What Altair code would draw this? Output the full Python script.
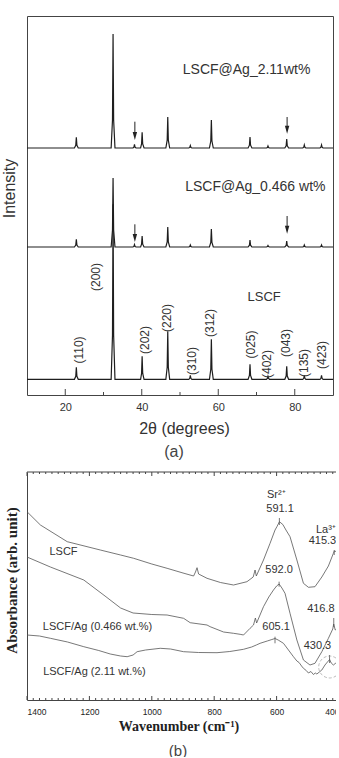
import altair as alt
import pandas as pd

FONT = "Liberation Sans"
SERIF = "Liberation Serif"
INK = "#333333"
FRAME = "#444444"

# ---------------- (a) XRD patterns ----------------
# shared 2-theta grid: each reflection is described by foot, shoulder, apex, shoulder, foot
TWO_THETA = [10.0,
             22.4, 22.75, 22.9, 23.05, 23.4,
             32.0, 32.35, 32.5, 32.65, 33.0,
             37.7, 37.95, 38.1, 38.25, 38.5,
             39.7, 39.95, 40.1, 40.25, 40.6,
             46.3, 46.65, 46.8, 46.95, 47.3,
             52.3, 52.55, 52.7, 52.85, 53.1,
             57.7, 58.05, 58.2, 58.35, 58.7,
             67.8, 68.15, 68.3, 68.45, 68.8,
             72.6, 72.85, 73.0, 73.15, 73.4,
             77.4, 77.75, 77.9, 78.05, 78.4,
             82.1, 82.35, 82.5, 82.65, 82.9,
             86.6, 86.85, 87.0, 87.15, 87.4,
             90.0]

I_AG211 = [0,
           0, 2.7, 10.7, 2.7, 0,
           0, 28, 114, 28, 0,
           0, 0.9, 3.5, 0.9, 0,
           0, 4, 15.7, 4, 0,
           0, 7.8, 31, 7.8, 0,
           0, 0.6, 2.5, 0.6, 0,
           0, 7, 28, 7, 0,
           0, 2.8, 11, 2.8, 0,
           0, 0.5, 2, 0.5, 0,
           0, 2.3, 9, 2.3, 0,
           0, 0.8, 3, 0.8, 0,
           0, 0.8, 3, 0.8, 0,
           0]

I_AG0466 = [0,
            0, 1.9, 7.7, 1.9, 0,
            0, 17, 69, 17, 0,
            0, 0.6, 2.5, 0.6, 0,
            0, 2.8, 11, 2.8, 0,
            0, 5, 20, 5, 0,
            0, 0.5, 2, 0.5, 0,
            0, 4.5, 18, 4.5, 0,
            0, 1.8, 7, 1.8, 0,
            0, 0.4, 1.5, 0.4, 0,
            0, 1.5, 6, 1.5, 0,
            0, 0.5, 2, 0.5, 0,
            0, 0.5, 2, 0.5, 0,
            0]

I_LSCF = [0,
          0, 3, 12, 3, 0,
          0, 44, 175, 44, 0,
          0, 0, 0, 0, 0,
          0, 5.8, 23, 5.8, 0,
          0, 12, 48, 12, 0,
          0, 1, 4, 1, 0,
          0, 10, 40, 10, 0,
          0, 3.8, 15, 3.8, 0,
          0, 0.8, 3, 0.8, 0,
          0, 3.3, 13, 3.3, 0,
          0, 1, 4, 1, 0,
          0, 1, 4, 1, 0,
          0]

XRD_SERIES = ["LSCF@Ag_2.11wt%", "LSCF@Ag_0.466 wt%", "LSCF"]
XRD_OFFSET = [247, 148, 15.7]  # vertical stacking of the three patterns

HKL = ["(110)", "(200)", "(202)", "(220)", "(310)", "(312)",
       "(025)", "(402)", "(043)", "(135)", "(423)"]
HKL_2THETA = [23.5, 28.1, 40.75, 46.7, 53.15, 57.9, 68.65, 72.85, 77.75, 82.35, 87.15]
HKL_Y = [45, 118, 55, 77, 34, 72, 50.5, 31, 52, 32, 40]

AG_ARROW_2THETA = [38.2, 78.0, 38.2, 78.0]
AG_ARROW_TOP = [273.3, 278.0, 170.7, 179.0]
AG_ARROW_TIP = [255.0, 261.3, 153.0, 161.3]

XRD_NAME_2THETA = [67.4, 69.7]
XRD_NAME_Y = [325.0, 208.3]
LSCF_NAME_2THETA = [72.0]
LSCF_NAME_Y = [98.3]

XRD_MAJOR = [20, 40, 60, 80]
XRD_MINOR = [30, 50, 70]

# ---------------- (b) FTIR spectra ----------------
WN_LSCF = [1400, 1357, 1271, 1165, 1100, 1058, 1000, 951, 900, 866, 860, 855, 850,
           823, 780, 738, 695, 675, 669, 665, 642, 621, 605, 599, 591, 580, 570,
           557, 535, 514, 498, 477, 455, 434, 418, 415, 407, 400]
AB_LSCF = [188.3, 175, 158.3, 150, 145, 141.7, 136, 131.7, 127, 124, 128, 132.3, 126,
           121.7, 117.5, 115, 118.3, 123, 130, 124, 140, 156.7, 170, 173.3, 178.3, 175.5, 170,
           163.3, 140, 116.7, 112.7, 113.3, 123, 134, 146.7, 149, 148.3, 147]

WN_AG0466 = [1400, 1325, 1218, 1150, 1100, 1060, 1000, 951, 898, 877, 823, 813, 770,
             738, 717, 706, 685, 674, 668, 664, 642, 625, 610, 600, 592, 583, 573,
             557, 535, 514, 493, 477, 455, 434, 420, 417, 412, 400]
AB_AG0466 = [143, 133, 120, 104, 92, 87, 85.5, 85, 81.7, 77.3, 75, 73.3, 68,
             66.7, 65.7, 65, 71.7, 75, 82, 77, 93.3, 103, 110, 114, 116, 112, 106.7,
             86.7, 60, 40, 35, 36.7, 48.3, 61.7, 71, 76, 70, 73]

WN_AG211 = [1400, 1360, 1325, 1270, 1218, 1170, 1133, 1100, 1079, 1060, 1047, 1020,
            973, 940, 898, 850, 791, 750, 706, 680, 665, 653, 630, 615, 605, 595, 578,
            562, 546, 535, 528, 520, 514, 505, 498, 490, 482, 476, 471, 463, 455, 445,
            437, 430, 425, 418, 410, 400]
AB_AG211 = [65, 64, 61.7, 58, 53.3, 49.5, 46, 44, 43.3, 45, 48.3, 50,
            51.7, 51, 48.3, 47.5, 47.3, 48.5, 50.7, 53, 55, 56.7, 59, 60.5, 61.5, 60, 56.7,
            50, 43.3, 39, 37.5, 34, 31.7, 29.5, 27, 28.5, 25.5, 27, 26, 28, 30, 35,
            38, 40.5, 37, 35, 37, 40]

PEAK_WN = [591.1, 415.3, 592.0, 416.8, 605.1, 430.3]
PEAK_LO = [175.0, 145.0, 113.3, 73.0, 56.7, 37.0]
PEAK_HI = [182.0, 150.0, 118.3, 82.0, 63.3, 45.0]

FTIR_LABELS = ["Sr²⁺", "591.1", "La³⁺", "415.3", "592.0", "416.8", "605.1", "430.3",
               "LSCF", "LSCF/Ag (0.466 wt.%)", "LSCF/Ag (2.11 wt.%)"]
FTIR_LABEL_WN = [601, 589, 442, 453, 592, 458, 601.6, 469, 1283, 1174, 1184]
FTIR_LABEL_AB = [205, 191, 170, 159, 130, 91, 73.3, 54.2, 148, 73.3, 28.3]

HIGHLIGHT_WN = [430]
HIGHLIGHT_AB = [33]

FTIR_MAJOR = [1400, 1200, 1000, 800, 600, 400]
FTIR_MINOR = [w for w in range(400, 1401, 20) if w % 200 != 0]

# ================= panel (a) =================
WA, HA = 306, 379

rows = []
for name, off, vals in zip(XRD_SERIES, XRD_OFFSET, [I_AG211, I_AG0466, I_LSCF]):
    for t, v in zip(TWO_THETA, vals):
        rows.append({"tt": t, "inten": v + off, "series": name})
xrd = pd.DataFrame(rows)

xa_axis = alt.Axis(values=XRD_MAJOR, ticks=False, tickSize=0, domain=False,
                   labelFontSize=11, labelFont=FONT, labelColor=INK, labelPadding=6,
                   title="2θ (degrees)", titleFontSize=16, titleFont=FONT,
                   titleFontWeight="normal", titleColor=INK, titlePadding=8, titleX=157)
ya_axis = alt.Axis(labels=False, ticks=False, domain=False, title="Intensity",
                   titleFontSize=16, titleFont=FONT, titleFontWeight="normal",
                   titleColor=INK, titlePadding=10, titleY=172)
xa_scale = alt.Scale(domain=[10, 90], nice=False, zero=False)
ya_scale = alt.Scale(domain=[0, HA], nice=False, zero=False)


def xA(field):
    return alt.X(field, type="quantitative", scale=xa_scale, axis=xa_axis)


def yA(field):
    return alt.Y(field, type="quantitative", scale=ya_scale, axis=ya_axis)


patterns = alt.Chart(xrd).mark_line(color="#1e1e1e", strokeWidth=1.2).encode(
    x=xA("tt"), y=yA("inten"), detail="series:N")

hkl_df = pd.DataFrame({"tt": HKL_2THETA, "inten": HKL_Y, "label": HKL})
hkl_text = alt.Chart(hkl_df).mark_text(angle=270, font=FONT, fontSize=12, color=INK).encode(
    x=xA("tt"), y=yA("inten"), text="label:N")

name_df = pd.DataFrame({"tt": XRD_NAME_2THETA, "inten": XRD_NAME_Y, "label": XRD_SERIES[:2]})
name_text = alt.Chart(name_df).mark_text(font=FONT, fontSize=14, color=INK).encode(
    x=xA("tt"), y=yA("inten"), text="label:N")
lscf_df = pd.DataFrame({"tt": LSCF_NAME_2THETA, "inten": LSCF_NAME_Y, "label": [XRD_SERIES[2]]})
lscf_text = alt.Chart(lscf_df).mark_text(font=FONT, fontSize=13, color=INK).encode(
    x=xA("tt"), y=yA("inten"), text="label:N")

arrow_df = pd.DataFrame({"tt": AG_ARROW_2THETA, "inten": AG_ARROW_TOP,
                         "shaft_end": [t + 6 for t in AG_ARROW_TIP]})
shafts = alt.Chart(arrow_df).mark_rule(color="#222222", strokeWidth=1).encode(
    x=xA("tt"), y=yA("inten"), y2="shaft_end:Q")
head_df = pd.DataFrame({"tt": AG_ARROW_2THETA, "inten": [t + 4 for t in AG_ARROW_TIP]})
heads = alt.Chart(head_df).mark_point(shape="M-0.55,-1L0.55,-1L0,1Z", size=64, filled=True,
                                      color="#222222", opacity=1).encode(x=xA("tt"), y=yA("inten"))

major_a = alt.Chart(pd.DataFrame({"tt": XRD_MAJOR})).mark_rule(color=FRAME).encode(
    x=xA("tt"), y=alt.value(HA), y2=alt.value(HA - 6))
minor_a = alt.Chart(pd.DataFrame({"tt": XRD_MINOR})).mark_rule(color=FRAME).encode(
    x=xA("tt"), y=alt.value(HA), y2=alt.value(HA - 3))

panel_a = alt.layer(patterns, hkl_text, name_text, lscf_text, shafts, heads, major_a, minor_a).properties(
    width=WA, height=HA,
    title=alt.TitleParams("(a)", orient="bottom", anchor="middle", fontSize=16, font=FONT,
                          fontWeight="normal", color="#444444", dx=-6, offset=8))

# ================= panel (b) =================
WB, HB = 312, 228

spec_rows = []
for name, wn, ab in [("LSCF", WN_LSCF, AB_LSCF), ("LSCF/Ag (0.466 wt.%)", WN_AG0466, AB_AG0466),
                     ("LSCF/Ag (2.11 wt.%)", WN_AG211, AB_AG211)]:
    for w, a in zip(wn, ab):
        spec_rows.append({"wn": w, "ab": a, "series": name})
ftir = pd.DataFrame(spec_rows)

xb_axis = alt.Axis(values=FTIR_MAJOR, format="d", ticks=False, tickSize=0, domain=True,
                   domainColor=FRAME, labelFontSize=8.5, labelFont=FONT, labelColor="#222222",
                   labelPadding=7, title="Wavenumber (cm⁻¹)", titleFontSize=14, titleFont=SERIF,
                   titleFontWeight="bold", titleColor="#222222", titlePadding=4, titleX=151.5)
yb_axis = alt.Axis(labels=False, ticks=False, domain=True, domainColor=FRAME,
                   title="Absorbance (arb. unit)", titleFontSize=15, titleFont=SERIF,
                   titleFontWeight="bold", titleColor="#222222", titlePadding=8, titleY=108)
xb_scale = alt.Scale(domain=[400, 1400], reverse=True, nice=False, zero=False)
yb_scale = alt.Scale(domain=[0, HB], nice=False, zero=False)


def xB(field):
    return alt.X(field, type="quantitative", scale=xb_scale, axis=xb_axis)


def yB(field):
    return alt.Y(field, type="quantitative", scale=yb_scale, axis=yb_axis)


spectra = alt.Chart(ftir).mark_line(color="#555555", strokeWidth=0.8).encode(
    x=xB("wn"), y=yB("ab"), detail="series:N")

peak_df = pd.DataFrame({"wn": PEAK_WN, "ab": PEAK_LO, "hi": PEAK_HI})
peak_marks = alt.Chart(peak_df).mark_rule(color="#555555", strokeWidth=0.8).encode(
    x=xB("wn"), y=yB("ab"), y2="hi:Q")

lab_df = pd.DataFrame({"wn": FTIR_LABEL_WN, "ab": FTIR_LABEL_AB, "label": FTIR_LABELS})
ftir_text = alt.Chart(lab_df).mark_text(font=FONT, fontSize=11, color=INK).encode(
    x=xB("wn"), y=yB("ab"), text="label:N")

ring = alt.Chart(pd.DataFrame({"wn": HIGHLIGHT_WN, "ab": HIGHLIGHT_AB})).mark_point(
    shape="circle", size=480, filled=False, color="#888888", strokeWidth=0.8,
    strokeDash=[3, 2], clip=True).encode(x=xB("wn"), y=yB("ab"))

major_b_bottom = alt.Chart(pd.DataFrame({"wn": FTIR_MAJOR})).mark_rule(color=FRAME).encode(
    x=xB("wn"), y=alt.value(HB), y2=alt.value(HB - 4))
minor_b_bottom = alt.Chart(pd.DataFrame({"wn": FTIR_MINOR})).mark_rule(color=FRAME).encode(
    x=xB("wn"), y=alt.value(HB), y2=alt.value(HB - 2))
major_b_top = alt.Chart(pd.DataFrame({"wn": FTIR_MAJOR})).mark_rule(color=FRAME).encode(
    x=xB("wn"), y=alt.value(0), y2=alt.value(4))
minor_b_top = alt.Chart(pd.DataFrame({"wn": FTIR_MINOR})).mark_rule(color=FRAME).encode(
    x=xB("wn"), y=alt.value(0), y2=alt.value(2))
top_edge = alt.Chart(pd.DataFrame({"wn": [1400]})).mark_rule(color=FRAME).encode(
    x=alt.value(0), x2=alt.value(WB), y=alt.value(0))

panel_b = alt.layer(spectra, peak_marks, ftir_text, ring, major_b_bottom, minor_b_bottom,
                    major_b_top, minor_b_top, top_edge).properties(
    width=WB, height=HB,
    view=alt.ViewBackground(strokeOpacity=0),
    title=alt.TitleParams("(b)", orient="bottom", anchor="middle", fontSize=15, font=FONT,
                          fontWeight="normal", color="#444444", dx=-5, offset=10))

chart = alt.vconcat(panel_a, panel_b, spacing=10).configure_view(
    stroke=FRAME, strokeWidth=1).configure_axis(grid=False).properties(
    padding={"left": 0, "top": 15, "right": -5, "bottom": -2})

chart.save("out.html", embed_options={"renderer": "svg", "actions": False})
